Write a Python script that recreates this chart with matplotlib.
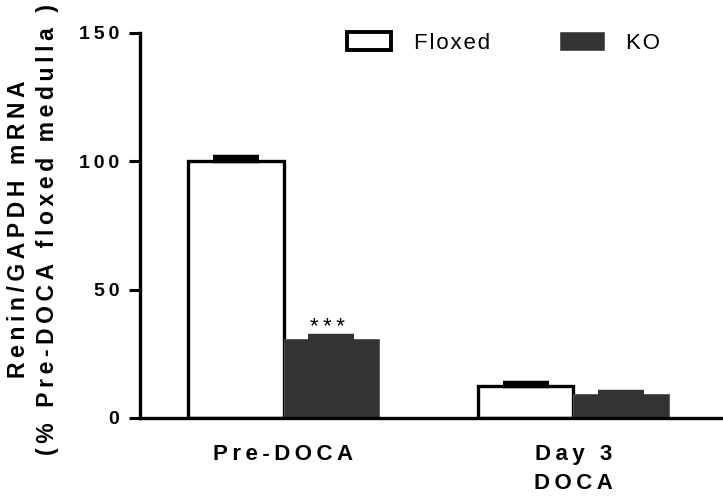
import numpy as np
import matplotlib
matplotlib.use("Agg")
import matplotlib.pyplot as plt

plt.rcParams['font.family'] = ['Liberation Sans', 'DejaVu Sans']

# data
groups = ["Pre-DOCA", "Day 3\nDOCA"]
floxed = [100.0, 12.6]
floxed_err = [1.5, 1.1]
ko = [30.7, 9.2]
ko_err = [1.1, 0.9]
yticks = [0, 50, 100, 150]

THIN = "\u2009"
HAIR = "\u200a"


def spaced(s, sep=THIN):
    # the original uses wide letter spacing
    return "\n".join(sep.join(line) for line in s.split("\n"))


fig = plt.figure(figsize=(7.23, 4.96), dpi=100)
ax = fig.add_axes([140 / 723, 78 / 496, 583 / 723, 385.3 / 496])

x = np.arange(len(groups))
w = 0.33
ko_col = "#333333"

ax.bar(x - w / 2, floxed, w, color="white", edgecolor="black", linewidth=2.4,
       label=spaced("Floxed", HAIR), zorder=2)
ax.bar(x + w / 2, ko, w, color=ko_col, edgecolor="#555555", linewidth=0.6,
       label=spaced("KO", HAIR), zorder=2)

ax.errorbar(x - w / 2, floxed, yerr=[np.zeros(len(x)), floxed_err], fmt="none",
            ecolor="black", elinewidth=2.2, capsize=16.5, capthick=3.2, zorder=3)
ax.errorbar(x + w / 2, ko, yerr=[np.zeros(len(x)), ko_err], fmt="none",
            ecolor=ko_col, elinewidth=2.2, capsize=16.5, capthick=3.2, zorder=3)

# significance marker on KO pre-DOCA
ax.text(x[0] + w / 2 - 0.012, ko[0] + ko_err[0] - 0.8, spaced("***"),
        ha="center", va="bottom", fontsize=16)

ax.set_xlim(-0.495, 1.516)
ax.set_ylim(0, 150)
ax.set_yticks(yticks, labels=[spaced(str(t)) for t in yticks],
              fontsize=14, fontweight="bold")
ax.set_xticks(x, labels=[spaced(g) for g in groups], fontsize=16,
              fontweight="bold", linespacing=1.45)
ax.tick_params(axis="x", length=0, pad=19)
ax.tick_params(axis="y", length=8, width=2.2, pad=7)

for s in ["top", "right"]:
    ax.spines[s].set_visible(False)
for s in ["left", "bottom"]:
    ax.spines[s].set_linewidth(2.4)

ax.set_ylabel(spaced("Renin/GAPDH mRNA\n(% Pre-DOCA floxed medulla )"),
              fontsize=16.5, fontweight="bold", linespacing=1.3,
              ha="center", va="center")
ax.yaxis.set_label_coords(-107 / 583, 0.49)

leg = ax.legend(loc="upper left", bbox_to_anchor=(347 / 723, 1 - 32 / 496),
                bbox_transform=fig.transFigure, ncol=2, frameon=False,
                fontsize=16, handlelength=2.0, handleheight=0.85,
                handletextpad=1.0, columnspacing=3.15, borderpad=0,
                borderaxespad=0)
leg.get_patches()[0].set_linewidth(2.8)

fig.savefig("out.png", dpi=100)
